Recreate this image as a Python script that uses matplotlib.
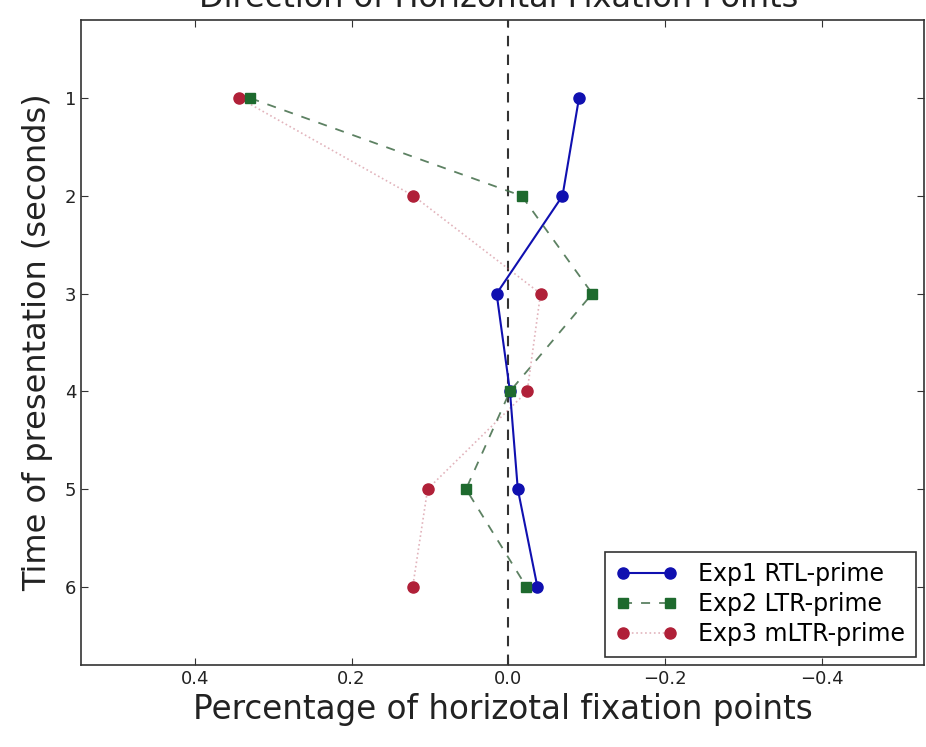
import matplotlib
matplotlib.use("Agg")
import matplotlib.pyplot as plt

times = [1, 2, 3, 4, 5, 6]
exp1_rtl = [-0.090, -0.069, 0.015, -0.002, -0.012, -0.037]
exp2_ltr = [0.329, -0.017, -0.107, -0.002, 0.054, -0.023]
exp3_mltr = [0.343, 0.121, -0.041, -0.024, 0.103, 0.122]
labels = ["Exp1 RTL-prime", "Exp2 LTR-prime", "Exp3 mLTR-prime"]
xticks = [0.4, 0.2, 0.0, -0.2, -0.4]

fig = plt.figure(figsize=(9.26, 7.47), dpi=100)
ax = fig.add_axes([81/926, 1 - 665/747, (926 - 81 - 2)/926, (665 - 20)/747])

ax.axvline(0.0, color="#333333", linestyle="--", linewidth=1.5, dashes=(5, 4), zorder=1)

blue = "#1010b0"
green = "#1e6a2e"
red = "#b02038"
ax.plot(exp1_rtl, times, color=blue, linestyle="-", marker="o", markersize=8,
        markeredgecolor=blue, markerfacecolor=blue, linewidth=1.5, label=labels[0], zorder=3)
ax.plot(exp2_ltr, times, color=(0.25, 0.42, 0.28, 0.85), linestyle="--", marker="s", markersize=7,
        markeredgecolor=green, markerfacecolor=green, linewidth=1.3, label=labels[1], zorder=4,
        dashes=(5, 5))
ax.plot(exp3_mltr, times, color=(0.75, 0.35, 0.42, 0.45), linestyle=":", marker="o", markersize=8,
        markeredgecolor=red, markerfacecolor=red, linewidth=1.2, label=labels[2], zorder=2)

ax.set_xlim(0.545, -0.53)
ax.set_ylim(6.8, 0.2)
ax.set_xticks(xticks)
ax.set_xticklabels(["0.4", "0.2", "0.0", "\u22120.2", "\u22120.4"])
ax.set_yticks(times)
ax.tick_params(direction="in", top=True, right=True, labelsize=13, length=5, colors="#333333")
for lbl in ax.get_xticklabels() + ax.get_yticklabels():
    lbl.set_color("#222222")
for s in ax.spines.values():
    s.set_color("#333333")
    s.set_linewidth(1.2)

ax.set_xlabel("Percentage of horizotal fixation points", fontsize=23.5, color="#222222", labelpad=4)
ax.set_ylabel("Time of presentation (seconds)", fontsize=23, color="#222222", labelpad=8)
fig.text(499/926, 1 - 7/747, "Direction of Horizontal Fixation Points", ha="center", va="baseline",
         fontsize=23, color="#222222")

leg = ax.legend(loc="lower right", numpoints=2, fontsize=17, fancybox=False,
                edgecolor="#333333", framealpha=1, borderpad=0.45, handlelength=2.6,
                handletextpad=0.9, labelspacing=0.25, borderaxespad=0.35)
leg.get_frame().set_linewidth(1.2)

fig.savefig("out.png", dpi=100)
